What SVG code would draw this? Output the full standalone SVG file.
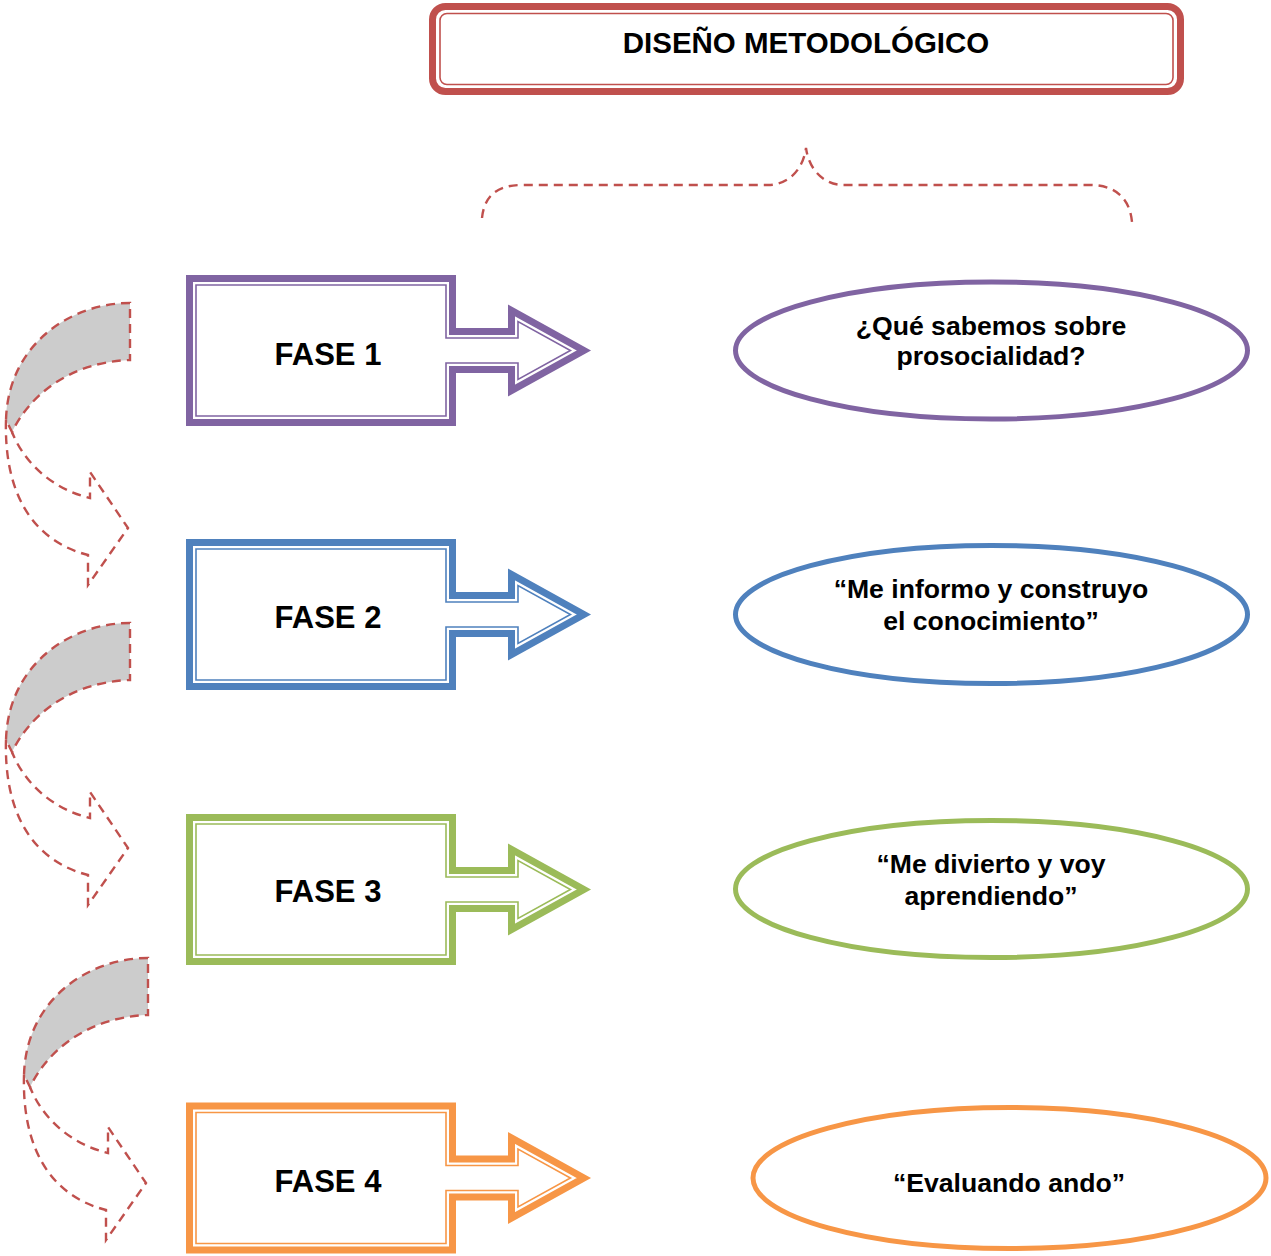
<svg xmlns="http://www.w3.org/2000/svg" xmlns:xlink="http://www.w3.org/1999/xlink" width="1271" height="1256" viewBox="0 0 1271 1256">
<style>
text{font-family:"Liberation Sans",Arial,sans-serif;font-weight:bold;fill:#000;text-anchor:middle}
.t1{font-size:29.5px}
.fase{font-size:31px}
.el{font-size:26.6px}
.dash{fill:none;stroke:#C0504D;stroke-width:2.4;stroke-dasharray:9 6}
.band{fill:#CCCCCC;stroke:#C0504D;stroke-width:2.4;stroke-dasharray:9 6}
.thick{fill:#fff;stroke-width:7;stroke-linejoin:miter}
.thin{fill:none;stroke-width:1.6;stroke-linejoin:miter}
.ell{fill:#fff;stroke-width:5}
</style>
<defs>
<path id="callout" d="M189.5,-72 H452.5 V-19 H511.5 V-40 L583.8,0 L511.5,40 V19 H452.5 V72 H189.5 Z"/>
<path id="calloutIn" d="M196,-65.5 H446 V-12.5 H518 V-29 L570.4,0 L518,29 V12.5 H446 V65.5 H196 Z"/>
<g id="curved">
<path class="band" d="M130,303 C70,303 8,345 6,420 L12,432 C30,395 70,362 130,360 Z"/>
<path class="dash" d="M6,420 C4,490 30,540 88,555 V585 L128,528 L90,472 V498 C55,490 25,465 12,432"/>
</g>
</defs>
<rect width="1271" height="1256" fill="#fff"/>

<g id="titulo">
<rect x="432.5" y="6.5" width="748" height="85" rx="13" fill="#fff" stroke="#C0504D" stroke-width="7"/>
<rect x="440" y="13.5" width="733" height="71" rx="7" fill="none" stroke="#C0504D" stroke-width="1.6"/>
<text class="t1" x="806" y="53">DISEÑO METODOLÓGICO</text>
</g>

<g id="connectors">
<path class="dash" d="M482,218 C484,198 495,185 522,185 H768 C788,185 803,170 806,148 C809,170 824,185 844,185 H1090 C1117,185 1130,200 1132,222"/>
<use xlink:href="#curved"/>
<use xlink:href="#curved" transform="translate(0,320)"/>
<use xlink:href="#curved" transform="translate(18,655)"/>
</g>

<g id="fase1" transform="translate(0,350.5)">
<use xlink:href="#callout" class="thick" stroke="#8064A2"/>
<use xlink:href="#calloutIn" class="thin" stroke="#8064A2"/>
<text class="fase" x="328" y="14.5">FASE 1</text>
</g>
<g id="fase2" transform="translate(0,614.5)">
<use xlink:href="#callout" class="thick" stroke="#4F81BD"/>
<use xlink:href="#calloutIn" class="thin" stroke="#4F81BD"/>
<text class="fase" x="328" y="13.5">FASE 2</text>
</g>
<g id="fase3" transform="translate(0,889.5)">
<use xlink:href="#callout" class="thick" stroke="#9BBB59"/>
<use xlink:href="#calloutIn" class="thin" stroke="#9BBB59"/>
<text class="fase" x="328" y="12.5">FASE 3</text>
</g>
<g id="fase4" transform="translate(0,1178)">
<use xlink:href="#callout" class="thick" stroke="#F79646"/>
<use xlink:href="#calloutIn" class="thin" stroke="#F79646"/>
<text class="fase" x="328" y="14">FASE 4</text>
</g>

<g id="elipse1">
<ellipse class="ell" cx="991.5" cy="350.5" rx="256" ry="68.5" stroke="#8064A2"/>
<text class="el" x="991" y="335">¿Qué sabemos sobre</text>
<text class="el" x="991" y="365">prosocialidad?</text>
</g>
<g id="elipse2">
<ellipse class="ell" cx="991.5" cy="614.5" rx="256" ry="69" stroke="#4F81BD"/>
<text class="el" x="991" y="598">“Me informo y construyo</text>
<text class="el" x="991" y="630">el conocimiento”</text>
</g>
<g id="elipse3">
<ellipse class="ell" cx="991.5" cy="889" rx="256" ry="68.5" stroke="#9BBB59"/>
<text class="el" x="991" y="873">“Me divierto y voy</text>
<text class="el" x="991" y="905">aprendiendo”</text>
</g>
<g id="elipse4">
<ellipse class="ell" cx="1009.5" cy="1178" rx="256.5" ry="70.5" stroke="#F79646"/>
<text class="el" x="1009" y="1192">“Evaluando ando”</text>
</g>
</svg>
